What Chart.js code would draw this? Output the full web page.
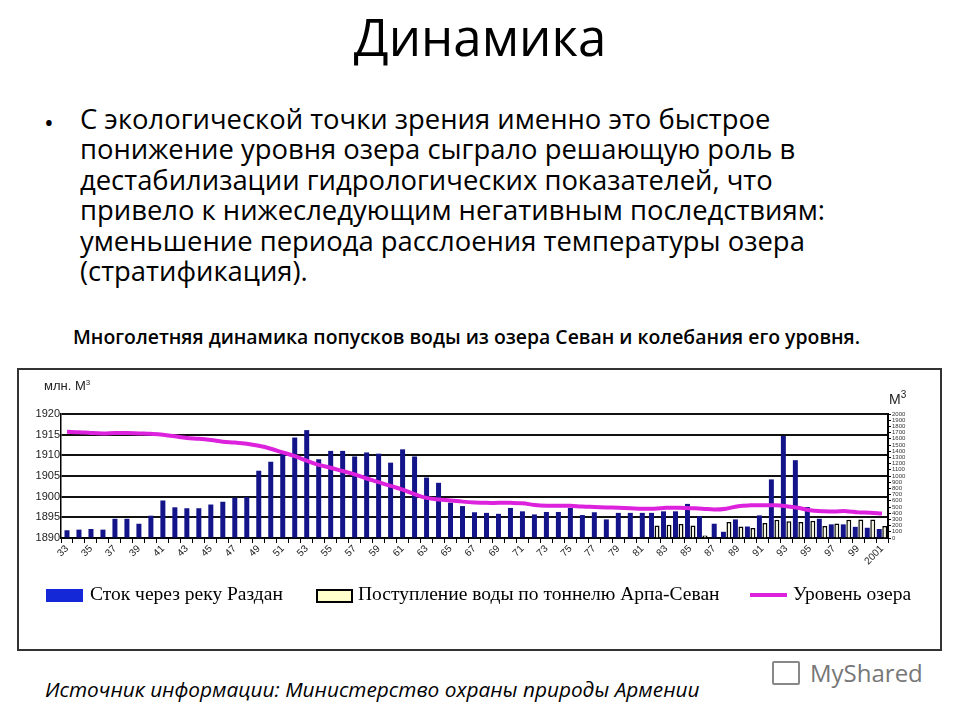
<!DOCTYPE html>
<html lang="ru">
<head>
<meta charset="utf-8">
<title>Динамика</title>
<script src="https://cdn.jsdelivr.net/npm/chart.js@4.4.1/dist/chart.umd.min.js"></script>
<style>
    html, body { margin: 0; padding: 0; background: #fff; }
    body { width: 960px; height: 720px; position: relative; overflow: hidden; font-family: "Open Sans", sans-serif; color: #000; }
    .abs { position: absolute; white-space: nowrap; }
    #title { left: 0; width: 960px; top: 1px; text-align: center; font-size: 51px; font-weight: 400; }
    #bullet { left: 44px; top: 104px; font-size: 26px; }
    #text { left: 80px; top: 104px; font-size: 27.4px; line-height: 30.4px; }
    #subtitle { left: 73px; top: 323px; font-size: 19.4px; font-weight: 600; }
    #box { left: 17px; top: 368px; width: 921px; height: 279px; border: 2px solid #333; }
    #chartWrap { left: 19px; top: 370px; }
    .legend { font-family: "Liberation Serif", serif; font-size: 19.5px; top: 583px; }
    .swatch { position: absolute; }
    #source { left: 45px; top: 675px; font-size: 20.8px; font-style: italic; }
    #logo { left: 810px; top: 656px; font-size: 24px; color: #777; }
</style>
</head>
<body>

<div id="title" class="abs">Динамика</div>
<div id="bullet" class="abs">•</div>
<div id="text" class="abs">С экологической точки зрения именно это быстрое<br>понижение уровня озера сыграло решающую роль в<br>дестабилизации гидрологических показателей, что<br>привело к нижеследующим негативным последствиям:<br>уменьшение периода расслоения температуры озера<br>(стратификация).</div>
<div id="subtitle" class="abs">Многолетняя динамика попусков воды из озера Севан и колебания его уровня.</div>

<div id="box" class="abs"></div>
<div id="chartWrap" class="abs"><canvas id="chart" width="920" height="205"></canvas></div>
<div class="abs" style="left:44px; top:378px; font-family:'Liberation Sans',Arial; font-size:13px; color:#222;">млн. М<sup style="font-size:8px">3</sup></div>
<div class="abs" style="left:889px; top:389px; font-family:'Liberation Sans',Arial; font-size:14px; color:#222;">М<sup style="font-size:10px">3</sup></div>

<!-- Legend -->
<div class="swatch" style="left:46px; top:589px; width:37px; height:13px; background:#1428d8;"></div>
<div class="abs legend" style="left:90px;">Сток через реку Раздан</div>
<div class="swatch" style="left:316px; top:589px; width:33px; height:10px; background:#ffffcc; border:2px solid #000;"></div>
<div class="abs legend" style="left:358px;">Поступление воды по тоннелю Арпа-Севан</div>
<div class="swatch" style="left:750px; top:593px; width:37px; height:4px; background:#dd22dd;"></div>
<div class="abs legend" style="left:793px;">Уровень озера</div>

<div id="source" class="abs">Источник информации: Министерство охраны природы Армении</div>
<div class="swatch" style="left:772px; top:661px; width:24px; height:20px; border:2px solid #888; border-radius:2px;"></div>
<div id="logo" class="abs">MyShared</div>

<script>
// ========
// Data
// ========
const years = [
    1933, 1934, 1935, 1936, 1937, 1938, 1939, 1940, 1941, 1942,
    1943, 1944, 1945, 1946, 1947, 1948, 1949, 1950, 1951, 1952,
    1953, 1954, 1955, 1956, 1957, 1958, 1959, 1960, 1961, 1962,
    1963, 1964, 1965, 1966, 1967, 1968, 1969, 1970, 1971, 1972,
    1973, 1974, 1975, 1976, 1977, 1978, 1979, 1980, 1981, 1982,
    1983, 1984, 1985, 1986, 1987, 1988, 1989, 1990, 1991, 1992,
    1993, 1994, 1995, 1996, 1997, 1998, 1999, 2000, 2001
];

// Сток через реку Раздан, млн. м3
const razdan = [
    125, 135, 145, 135, 310, 310, 230, 360, 605, 495,
    480, 480, 540, 585, 650, 660, 1085, 1230, 1380, 1620,
    1740, 1270, 1405, 1405, 1315, 1380, 1360, 1215, 1430, 1315,
    975, 890, 570, 515, 415, 405, 390, 485, 430, 380,
    420, 420, 485, 370, 415, 300, 405, 405, 405, 405,
    430, 430, 550, 350, 230, 100, 300, 185, 365, 945,
    1645, 1255, 500, 310, 220, 220, 180, 165, 145
];

// Поступление воды по тоннелю Арпа-Севан, млн. м3 (с 1982)
const tunnel = [
    null, null, null, null, null, null, null, null, null, null,
    null, null, null, null, null, null, null, null, null, null,
    null, null, null, null, null, null, null, null, null, null,
    null, null, null, null, null, null, null, null, null, null,
    null, null, null, null, null, null, null, null, null, 200,
    215, 225, 200, 40, null, 260, 185, 160, 240, 295,
    270, 260, 280, 195, 235, 295, 300, 300, 195
];

// Уровень озера, м
const level = [
    1915.7, 1915.6, 1915.4, 1915.3, 1915.4, 1915.4, 1915.3, 1915.2, 1915.0, 1914.6,
    1914.2, 1914.0, 1913.7, 1913.3, 1913.1, 1912.8, 1912.3, 1911.6, 1910.7, 1909.8,
    1908.7, 1907.7, 1907.0, 1906.2, 1905.4, 1904.4, 1903.5, 1902.6, 1901.7, 1900.6,
    1899.7, 1899.3, 1899.1, 1898.8, 1898.6, 1898.5, 1898.5, 1898.5, 1898.4, 1898.0,
    1897.8, 1897.8, 1897.8, 1897.6, 1897.5, 1897.4, 1897.3, 1897.2, 1897.1, 1897.1,
    1897.3, 1897.3, 1897.2, 1897.1, 1896.9, 1897.1, 1897.7, 1897.9, 1897.9, 1897.9,
    1897.7, 1897.3, 1896.7, 1896.5, 1896.4, 1896.5, 1896.2, 1896.1, 1895.9
];

const axisFont = { family: "Liberation Sans", size: 11 };

new Chart(document.getElementById("chart"), {
    type: "bar",
    data: {
        labels: years,
        datasets: [
            {
                type: "line",
                label: "Уровень озера",
                data: level,
                yAxisID: "yLevel",
                borderColor: "#dd22dd",
                borderWidth: 4,
                pointRadius: 0,
                tension: 0.4,
                order: 0
            },
            {
                label: "Сток через реку Раздан",
                data: razdan,
                yAxisID: "yFlow",
                backgroundColor: "#13138a",
                maxBarThickness: 5,
                skipNull: true,
                order: 1
            },
            {
                label: "Поступление воды по тоннелю Арпа-Севан",
                data: tunnel,
                yAxisID: "yFlow",
                backgroundColor: "#f4f4e0",
                borderColor: "#000",
                borderWidth: 1.5,
                maxBarThickness: 5,
                skipNull: true,
                order: 2
            }
        ]
    },
    options: {
        responsive: false,
        animation: false,
        layout: { padding: { top: 44 } },
        plugins: { legend: { display: false }, tooltip: { enabled: false } },
        datasets: { bar: { categoryPercentage: 0.92, barPercentage: 0.9 } },
        scales: {
            x: {
                afterFit: s => { s.height = 37; },
                grid: { drawOnChartArea: false, color: "#000", tickLength: 5 },
                border: { color: "#000", width: 1.5 },
                ticks: {
                    autoSkip: false,
                    minRotation: 45,
                    maxRotation: 45,
                    padding: 0,
                    color: "#222",
                    font: { family: "Liberation Sans", size: 10 },
                    callback: (v, i) => i % 2 === 0 ? (i === years.length - 1 ? "2001" : String(years[i]).slice(2)) : ""
                }
            },
            yLevel: {
                position: "left",
                min: 1890,
                max: 1920,
                afterFit: s => { s.width = 42; },
                ticks: { stepSize: 5, padding: 1, color: "#222", font: axisFont, callback: v => String(v) },
                grid: { color: "#111", lineWidth: 2, drawTicks: false },
                border: { color: "#000", width: 1.5 }
            },
            yFlow: {
                position: "right",
                min: 0,
                max: 2000,
                afterFit: s => { s.width = 51; },
                ticks: {
                    stepSize: 100,
                    autoSkip: false,
                    padding: 1,
                    color: "#333",
                    font: { family: "Liberation Sans", size: 6 },
                    callback: v => String(v)
                },
                grid: { drawOnChartArea: false, color: "#000", tickLength: 3 },
                border: { color: "#000", width: 2 }
            }
        }
    }
});
</script>
</body>
</html>
